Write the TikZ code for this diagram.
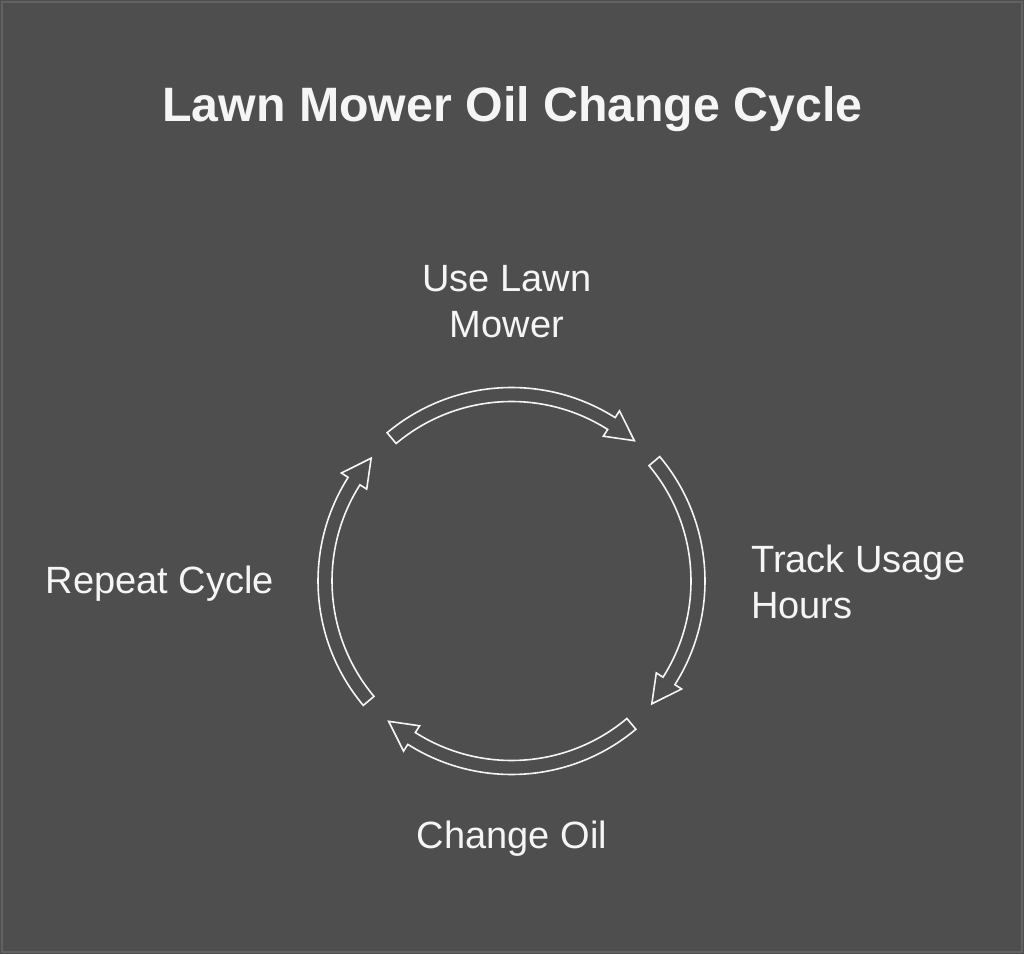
\documentclass[tikz,border=0pt]{standalone}
\usepackage{fontspec}
\setmainfont{Liberation Sans}
\definecolor{bg}{RGB}{78,78,78}
\definecolor{rim}{RGB}{98,98,98}
\definecolor{fg}{RGB}{245,245,245}
\begin{document}
\begin{tikzpicture}[x=0.75pt,y=0.75pt,
    lbl/.style={text=fg,font=\fontsize{28.5}{34.5}\selectfont,inner sep=0pt},
    ring/.style={draw=fg,line width=1.2pt,fill=bg,line join=miter}]
    \fill[bg] (0,0) rectangle (1024,954);
    \draw[rim,line width=1pt] (2,2) rectangle (1022,952);
    \useasboundingbox (0,0) rectangle (1024,954);

    \node[text=fg,font=\bfseries\fontsize{36.2}{40}\selectfont,inner sep=0pt,anchor=base] (title) at (512.5,832) {Lawn Mower Oil Change Cycle};

    \coordinate (c) at (511.5,373);
    \node[lbl,align=center,anchor=base] (use) at (507,616) {Use Lawn\\Mower};
    \node[lbl,align=left,anchor=base west] (track) at (751,336) {Track Usage\\Hours};
    \node[lbl,anchor=base] (change) at (512,106) {Change Oil};
    \node[lbl,anchor=base] (repeat) at (160,361) {Repeat Cycle};

    % four hollow arc arrows, clockwise
    \foreach \a in {90,0,-90,180}
    \draw[ring,shift={(c)}] (\a+40:193.5) arc[start angle=\a+40, end angle=\a-32.4, radius=193.5]
        -- (\a-32.4:201.5) -- (\a-41.2:186.5) -- (\a-32.4:171.5) -- (\a-32.4:179.5)
        arc[start angle=\a-32.4, end angle=\a+40, radius=179.5] -- cycle;
\end{tikzpicture}
\end{document}
